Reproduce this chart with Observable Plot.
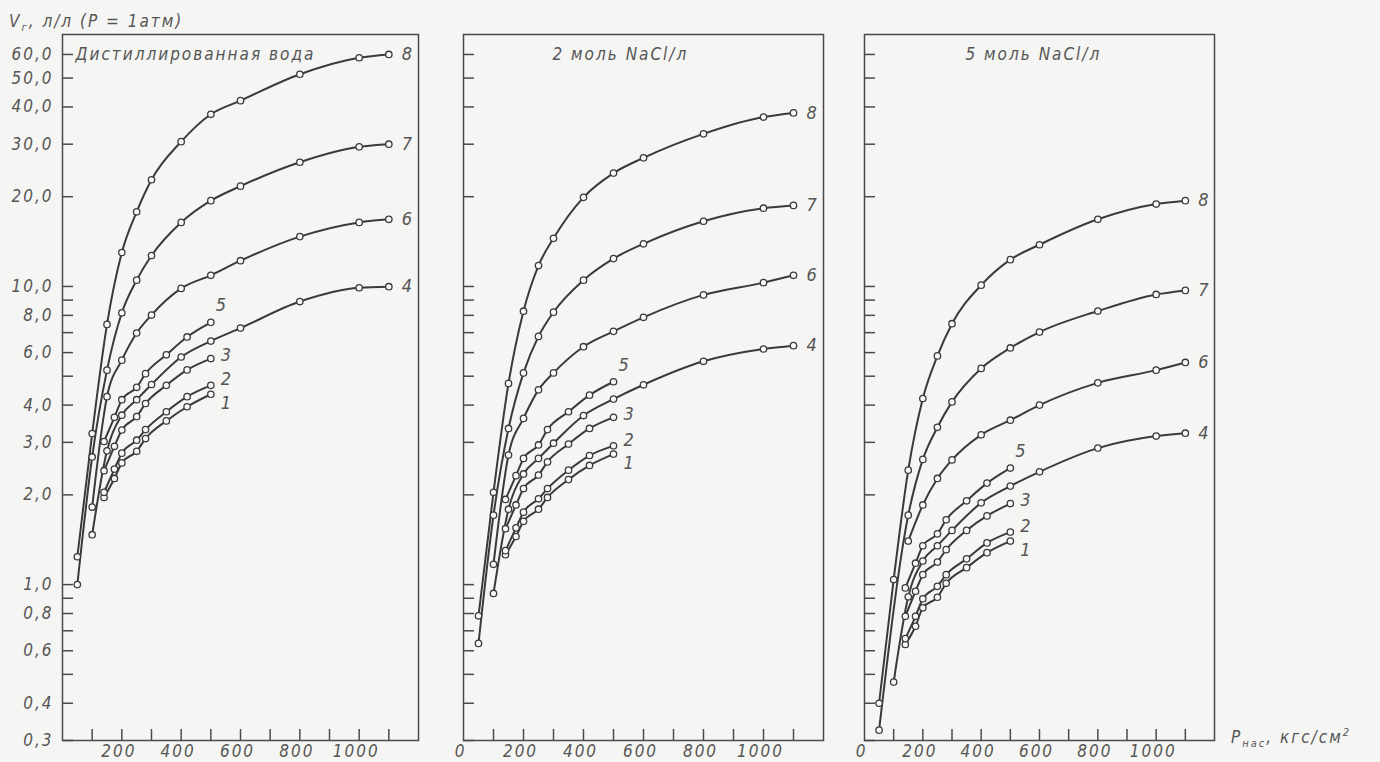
<!DOCTYPE html>
<html><head><meta charset="utf-8">
<script src="https://cdn.jsdelivr.net/npm/d3@7"></script>
<script src="https://cdn.jsdelivr.net/npm/@observablehq/plot@0.6"></script>
<style>
body{margin:0;background:#f5f5f3;}
#wrap{position:relative;width:1380px;height:762px;overflow:hidden;font-family:"Liberation Sans Narrow","DejaVu Sans Condensed",sans-serif;font-style:italic;color:#555;}
.panel{position:absolute;top:0;}
.ytitle{position:absolute;left:9px;top:11px;font-size:17px;letter-spacing:2px;white-space:nowrap;}
.xtitle{position:absolute;left:1231px;top:726px;font-size:17px;letter-spacing:2px;white-space:nowrap;}
sub,sup{font-size:11px;}
</style></head><body><div id="wrap"></div>
<script>
// ---- data ----
const panelTitles = ["Дистиллированная вода", "2 моль NaCl/л", "5 моль NaCl/л"];
const curveNames = ["1", "2", "3", "5", "4", "6", "7", "8"];
const xShort = [140, 175, 200, 250, 280, 350, 420, 500];           // curves 1,2,3,5
const xMid = [100, 150, 200, 250, 300, 400, 500, 600, 800, 1000, 1100]; // curves 4,6
const xLong = [50, 100, 150, 200, 250, 300, 400, 500, 600, 800, 1000, 1100]; // curves 7,8

// distilled water
const wat1 = [1.96, 2.27, 2.56, 2.80, 3.09, 3.54, 3.95, 4.35];
const wat2 = [2.04, 2.44, 2.76, 3.05, 3.31, 3.80, 4.27, 4.66];
const wat3 = [2.41, 2.91, 3.30, 3.66, 4.05, 4.66, 5.25, 5.73];
const wat5 = [3.02, 3.64, 4.17, 4.59, 5.10, 5.90, 6.77, 7.58];
const wat4 = [1.47, 2.81, 3.70, 4.17, 4.69, 5.80, 6.56, 7.25, 8.90, 9.90, 9.98];
const wat6 = [1.82, 4.27, 5.66, 6.98, 8.02, 9.85, 10.9, 12.2, 14.7, 16.4, 16.8];
const wat7 = [1.00, 2.68, 5.24, 8.16, 10.5, 12.7, 16.4, 19.4, 21.7, 26.1, 29.4, 30.0];
const wat8 = [1.24, 3.21, 7.46, 13.0, 17.8, 22.8, 30.6, 37.8, 42.0, 51.5, 58.5, 60.0];
// 2 mol NaCl/l
const n2c1 = [1.26, 1.45, 1.63, 1.79, 1.96, 2.25, 2.51, 2.74];
const n2c2 = [1.30, 1.55, 1.75, 1.94, 2.10, 2.42, 2.71, 2.92];
const n2c3 = [1.54, 1.85, 2.10, 2.33, 2.58, 2.96, 3.34, 3.64];
const n2c5 = [1.93, 2.32, 2.65, 2.94, 3.31, 3.80, 4.32, 4.79];
const n2c4 = [0.934, 1.79, 2.35, 2.65, 2.98, 3.69, 4.19, 4.68, 5.61, 6.17, 6.33];
const n2c6 = [1.17, 2.72, 3.61, 4.50, 5.13, 6.28, 7.07, 7.88, 9.37, 10.3, 10.9];
const n2c7 = [0.635, 1.71, 3.34, 5.13, 6.80, 8.20, 10.5, 12.4, 13.9, 16.55, 18.3, 18.7];
const n2c8 = [0.786, 2.04, 4.73, 8.26, 11.75, 14.5, 19.9, 24.0, 27.0, 32.5, 37.0, 38.2];
// 5 mol NaCl/l
const n5c1 = [0.63, 0.725, 0.836, 0.907, 1.01, 1.14, 1.28, 1.40];
const n5c2 = [0.659, 0.783, 0.896, 0.987, 1.08, 1.22, 1.38, 1.50];
const n5c3 = [0.783, 0.95, 1.08, 1.19, 1.31, 1.52, 1.70, 1.87];
const n5c5 = [0.975, 1.18, 1.35, 1.48, 1.65, 1.91, 2.19, 2.46];
const n5c4 = [0.471, 0.91, 1.20, 1.35, 1.52, 1.88, 2.14, 2.39, 2.87, 3.15, 3.22];
const n5c6 = [null, 1.40, 1.85, 2.27, 2.62, 3.18, 3.56, 4.00, 4.75, 5.24, 5.56];
const n5c7 = [0.325, null, 1.71, 2.63, 3.37, 4.10, 5.31, 6.22, 7.03, 8.27, 9.40, 9.70];
const n5c8 = [0.40, 1.04, 2.42, 4.21, 5.85, 7.50, 10.1, 12.3, 13.8, 16.8, 18.9, 19.4];

const yTicks = [0.3, 0.4, 0.5, 0.6, 0.7, 0.8, 0.9, 1, 2, 3, 4, 5, 6, 7, 8, 9, 10, 20, 30, 40, 50, 60];
const yLabels = [0.3, 0.4, 0.6, 0.8, 1, 2, 3, 4, 6, 8, 10, 20, 30, 40, 50, 60];
const xTicks = [100, 200, 300, 400, 500, 600, 700, 800, 900, 1000, 1100];
const xLabels1 = [200, 400, 600, 800, 1000];
const xLabels23 = [0, 200, 400, 600, 800, 1000];

// ---- build tables ----
const series = [
  [wat1, wat2, wat3, wat5, wat4, wat6, wat7, wat8],
  [n2c1, n2c2, n2c3, n2c5, n2c4, n2c6, n2c7, n2c8],
  [n5c1, n5c2, n5c3, n5c5, n5c4, n5c6, n5c7, n5c8]
];
const xsFor = name => (["1","2","3","5"].includes(name) ? xShort : ["4","6"].includes(name) ? xMid : xLong);
function rowsFor(p) {
  const rows = [];
  series[p].forEach((vals, i) => {
    const name = curveNames[i];
    const xs = xsFor(name);
    vals.forEach((v, j) => { if (v != null) rows.push({curve: name, x: xs[j], v}); });
  });
  return rows;
}

const ink = "#3a3a3a", txt = "#555";
const fmt = d => d.toFixed(1).replace(".", ",");
const geo = [
  {left: 0, width: 440, ml: 62, mr: 22},
  {left: 440, width: 400, ml: 23, mr: 17},
  {left: 840, width: 400, ml: 24, mr: 26}
];
const titleDx = [13, 89, 101];

const wrap = document.getElementById("wrap");
for (let p = 0; p < 3; p++) {
  const rows = rowsFor(p);
  const ends = curveNames.map(c => rows.filter(d => d.curve === c).at(-1));
  const endsOf = names => ends.filter(d => names.includes(d.curve));
  const g = geo[p];
  const textOpts = {fill: txt, fontSize: 18, fontStyle: "italic"};
  const chart = Plot.plot({
    width: g.width, height: 762,
    marginLeft: g.ml, marginRight: g.mr, marginTop: 34, marginBottom: 22,
    style: "background:transparent;overflow:visible;font-family:'Liberation Sans Narrow','DejaVu Sans Condensed',sans-serif;font-style:italic;letter-spacing:2px;",
    x: {domain: [0, 1200]},
    y: {type: "log", domain: [0.3, 70]},
    marks: [
      Plot.frame({stroke: "#4a4a4a", strokeWidth: 1.5}),
      Plot.axisY({ticks: yTicks, tickSize: -11, fill: "none", stroke: "#4a4a4a", strokeWidth: 1.5, label: null}),
      p === 0 ? Plot.text(yLabels, {y: d => d, text: fmt, frameAnchor: "left", dx: -9, textAnchor: "end", fill: txt, fontSize: 17, fontStyle: "italic"}) : null,
      Plot.axisX({ticks: xTicks, tickSize: -11, fill: "none", stroke: "#4a4a4a", strokeWidth: 1.5, label: null}),
      Plot.axisX({ticks: p === 0 ? xLabels1 : xLabels23, tickSize: 0, tickPadding: 4, dx: -3, tickFormat: d => String(d), fill: txt, fontSize: 17, label: null}),
      Plot.line(rows, {x: "x", y: "v", z: "curve", curve: "monotone-x", stroke: ink, strokeWidth: 2}),
      Plot.dot(rows, {x: "x", y: "v", r: 3.2, fill: "#f8f8f6", stroke: ink, strokeWidth: 1.3}),
      Plot.text(endsOf(["4", "6", "7", "8"]), {x: "x", y: "v", text: "curve", dx: 13, textAnchor: "start", ...textOpts}),
      Plot.text(endsOf(["3"]), {x: "x", y: "v", text: "curve", dx: 10, dy: -3, textAnchor: "start", ...textOpts}),
      Plot.text(endsOf(["2"]), {x: "x", y: "v", text: "curve", dx: 10, dy: -6, textAnchor: "start", ...textOpts}),
      Plot.text(endsOf(["1"]), {x: "x", y: "v", text: "curve", dx: 10, dy: 9, textAnchor: "start", ...textOpts}),
      Plot.text(endsOf(["5"]), {x: "x", y: "v", text: "curve", dx: 5, dy: -17, textAnchor: "start", ...textOpts}),
      Plot.text([panelTitles[p]], {frameAnchor: "top-left", dx: titleDx[p], dy: 20, textAnchor: "start", lineAnchor: "middle", ...textOpts, fontSize: 17})
    ]
  });
  chart.classList.add("panel");
  chart.style.left = g.left + "px";
  chart.style.position = "absolute";
  chart.style.top = "0px";
  wrap.appendChild(chart);
}
const yt = document.createElement("div");
yt.className = "ytitle";
yt.innerHTML = "V<sub>г</sub>, л/л (P = 1атм)";
wrap.appendChild(yt);
const xt = document.createElement("div");
xt.className = "xtitle";
xt.innerHTML = "P<sub>нас</sub>, кгс/см<sup>2</sup>";
wrap.appendChild(xt);
</script></body></html>
